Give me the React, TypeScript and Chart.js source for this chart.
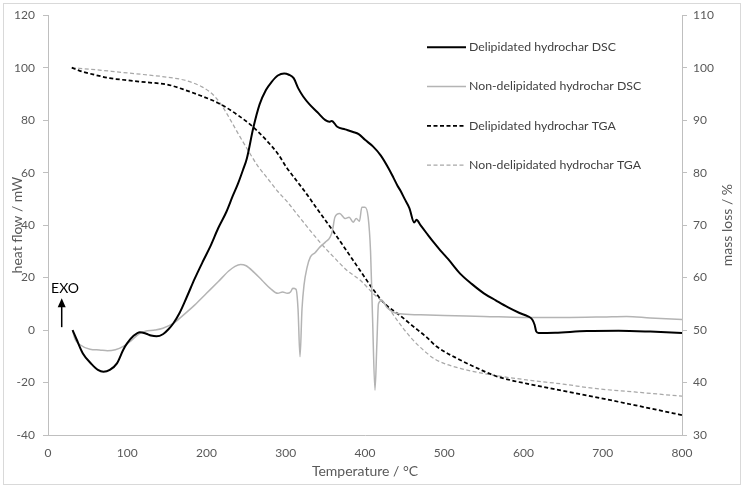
import { useEffect, useRef } from 'react'
import { Chart, registerables, type Plugin } from 'chart.js'

Chart.register(...registerables)

const FONT = 'Lato, "Open Sans", sans-serif'
const TICK = '#595959'
const AXIS = '#bfbfbf'

// Delipidated hydrochar DSC (heat flow, mW)
const deliDscTemp = [31, 36, 44, 55, 63, 70, 78, 87, 95, 100, 108, 116, 124, 130, 137, 145, 152, 158, 166, 175, 185, 196, 205, 215, 225, 233, 240, 246, 251, 259, 267, 275, 282, 290, 298, 304, 310, 316, 322, 330, 340, 350, 355, 358, 365, 375, 385, 392, 400, 410, 420, 430, 436, 441, 445, 450, 456, 462, 465, 470, 478, 487, 495, 505, 520, 535, 550, 565, 580, 595, 605, 611, 614, 616, 619, 640, 680, 720, 760, 800]
const deliDscFlow = [0, -3.5, -8.9, -13, -15.2, -15.9, -15.2, -12.7, -7.5, -5, -2.2, -0.8, -1.4, -2.1, -2.4, -1.6, 0.3, 2.5, 6.5, 12.5, 19.5, 26.5, 32, 39, 45, 51, 56, 61, 65.5, 77, 86, 91.5, 94.5, 97, 97.8, 97.3, 96, 92, 89, 86, 83, 80, 79.4, 79.7, 77.5, 76.5, 75.5, 74.7, 72.5, 70, 66.5, 61.5, 58, 55, 53, 50, 46.5, 41, 42, 40, 36.8, 33.3, 30.4, 27, 21.5, 17.5, 14, 11.3, 8.7, 6.5, 5.3, 4, 2, -0.5, -1.1, -1, -0.4, -0.3, -0.6, -1.1]

// Non-delipidated hydrochar DSC (heat flow, mW)
const nonDscTemp = [31, 34, 40, 53, 65, 75, 85, 95, 105, 115, 122, 135, 145, 158, 170, 185, 200, 215, 228, 236, 243, 250, 260, 270, 280, 290, 296, 302, 306, 309, 313, 315.5, 318, 320.5, 323, 327, 331, 337, 343, 350, 356, 359, 362, 368, 375, 380, 385, 389, 393, 396, 400, 404, 407, 409.5, 412.6, 415, 417, 421, 428, 436, 444, 470, 500, 550, 600, 650, 700, 730, 760, 800]
const nonDscFlow = [0, -3.4, -5.5, -7.3, -7.6, -7.9, -7.5, -6.2, -4, -1.5, -0.5, 0, 0.7, 2.5, 5.5, 9.5, 14, 18.5, 22.5, 24.3, 25, 24.5, 22, 19, 16, 14, 14.5, 14, 14.5, 15.9, 15.5, 8, -10.2, 8, 17, 24, 27.8, 29.5, 31.6, 33.5, 35.4, 38, 43, 44.4, 42.5, 43, 41.1, 42.5, 41.5, 46.8, 46.8, 43, 30, 5, -22.9, -5, 10, 11.3, 8.5, 6.8, 6.2, 5.8, 5.5, 5.2, 4.8, 4.8, 5, 5.2, 4.6, 4]

// Delipidated hydrochar TGA (mass, %)
const deliTgaTemp = [30, 40, 60, 78, 100, 125, 150, 170, 192, 210, 225, 240, 255, 265, 276, 290, 301, 315, 326, 340, 360, 375, 394, 410, 425, 444, 460, 478, 490, 520, 545, 562, 585, 604, 640, 688, 740, 800]
const deliTgaMass = [100, 99.4, 98.6, 98, 97.6, 97.2, 96.8, 95.9, 94.7, 93.6, 92.4, 90.9, 89.2, 87.8, 86.1, 83.6, 81, 78.2, 76, 73, 68.8, 65.5, 61.3, 57.8, 55, 52.8, 50.8, 48.6, 46.9, 44.3, 42.5, 41.4, 40.4, 39.8, 38.7, 37.3, 35.7, 33.8]

// Non-delipidated hydrochar TGA (mass, %)
const nonTgaTemp = [30, 60, 87, 120, 150, 170, 183, 195, 208, 217, 225, 233, 242, 255, 265, 276, 290, 301, 320, 345, 360, 377, 394, 410, 427, 440, 457, 478, 490, 520, 562, 604, 650, 688, 740, 800]
const nonTgaMass = [100, 99.6, 99.2, 98.7, 98.2, 97.7, 97.1, 96.3, 94.9, 93.3, 91.4, 89.3, 86.9, 83.6, 81.2, 79.1, 76.4, 74.6, 71, 66.4, 64, 61.4, 59.5, 57, 54.7, 52, 48.7, 45.6, 44.3, 42.7, 41.4, 40.5, 39.7, 38.9, 38.2, 37.4]

const zip = (xs: number[], ys: number[]) => xs.map((x, i) => ({ x, y: ys[i] }))

// legend inside the plot, EXO arrow, and the right title reading bottom-to-top
const extras: Plugin<'line'> = {
  id: 'extras',
  afterDraw(chart) {
    const { ctx, chartArea, scales } = chart
    ctx.save()

    const lx = chartArea.right - 255
    const ly = chartArea.top + 32
    chart.data.datasets.forEach((ds: any, i: number) => {
      const y = ly + i * 39.3
      ctx.strokeStyle = ds.borderColor
      ctx.lineWidth = ds.borderWidth
      ctx.setLineDash(ds.borderDash ?? [])
      ctx.beginPath()
      ctx.moveTo(lx, y)
      ctx.lineTo(lx + 39, y)
      ctx.stroke()
      ctx.setLineDash([])
      ctx.fillStyle = '#404040'
      ctx.font = `12.3px ${FONT}`
      ctx.textAlign = 'left'
      ctx.textBaseline = 'middle'
      ctx.fillText(ds.label, lx + 42, y)
    })

    const x = scales.x, y = scales.y
    const ax = x.getPixelForValue(17.3)
    const top = y.getPixelForValue(12.1)
    const bot = y.getPixelForValue(1.1)
    ctx.strokeStyle = '#000'
    ctx.fillStyle = '#000'
    ctx.lineWidth = 1.5
    ctx.beginPath()
    ctx.moveTo(ax, bot)
    ctx.lineTo(ax, top + 6)
    ctx.stroke()
    ctx.beginPath()
    ctx.moveTo(ax, top)
    ctx.lineTo(ax - 4, top + 9)
    ctx.lineTo(ax + 4, top + 9)
    ctx.closePath()
    ctx.fill()
    ctx.font = `14px ${FONT}`
    ctx.textAlign = 'center'
    ctx.fillText('EXO', x.getPixelForValue(21.5), y.getPixelForValue(16))

    ctx.translate(727, (chartArea.top + chartArea.bottom) / 2)
    ctx.rotate(-Math.PI / 2)
    ctx.fillStyle = TICK
    ctx.font = `14px ${FONT}`
    ctx.fillText('mass loss / %', 0, 0)
    ctx.restore()
  },
}

export default function App() {
  const canvasRef = useRef<HTMLCanvasElement>(null)

  useEffect(() => {
    document.body.style.margin = '0'
    if (!canvasRef.current) return
    const chart = new Chart(canvasRef.current, {
      type: 'line',
      data: {
        datasets: [
          { label: 'Delipidated hydrochar DSC', data: zip(deliDscTemp, deliDscFlow), borderColor: '#000000', borderWidth: 2, yAxisID: 'y' },
          { label: 'Non-delipidated hydrochar DSC', data: zip(nonDscTemp, nonDscFlow), borderColor: '#b4b4b4', borderWidth: 1.5, yAxisID: 'y' },
          { label: 'Delipidated hydrochar TGA', data: zip(deliTgaTemp, deliTgaMass), borderColor: '#000000', borderWidth: 1.75, borderDash: [4, 2.5], yAxisID: 'y2' },
          { label: 'Non-delipidated hydrochar TGA', data: zip(nonTgaTemp, nonTgaMass), borderColor: '#a8a8a8', borderWidth: 1.25, borderDash: [4, 2.5], yAxisID: 'y2' },
        ],
      },
      options: {
        responsive: true,
        maintainAspectRatio: false,
        animation: false,
        events: [],
        layout: { padding: { top: 14, left: 0, right: 0, bottom: 0 } },
        elements: {
          point: { radius: 0 },
          line: { cubicInterpolationMode: 'monotone', fill: false },
        },
        plugins: { legend: { display: false }, tooltip: { enabled: false } },
        scales: {
          x: {
            type: 'linear', min: 0, max: 800,
            ticks: { stepSize: 100, color: TICK, font: { family: FONT, size: 12 }, padding: 11, maxRotation: 0 },
            grid: { display: false, drawTicks: false },
            border: { display: true, color: AXIS, width: 1 },
            title: { display: true, text: 'Temperature / °C', color: TICK, font: { family: FONT, size: 14 }, padding: { top: 4, bottom: 7.6 } },
            afterFit: (s: any) => { s.height = 52 },
          },
          y: {
            position: 'left', min: -40, max: 120,
            ticks: { stepSize: 20, color: TICK, font: { family: FONT, size: 12 }, padding: 8 },
            grid: { display: true, drawOnChartArea: false, drawTicks: true, tickLength: 5, color: AXIS },
            border: { display: true, color: AXIS, width: 1 },
            title: { display: true, text: 'heat flow / mW', color: TICK, font: { family: FONT, size: 14 }, padding: { top: 8.6, bottom: 4 } },
            afterFit: (s: any) => { s.width = 48 },
          },
          y2: {
            position: 'right', min: 30, max: 110,
            ticks: { stepSize: 10, color: TICK, font: { family: FONT, size: 12 }, padding: 6 },
            grid: { display: true, drawOnChartArea: false, drawTicks: true, tickLength: 5, color: AXIS },
            border: { display: true, color: AXIS, width: 1 },
            afterFit: (s: any) => { s.width = 61 },
          },
        },
      },
      plugins: [extras],
    })
    return () => chart.destroy()
  }, [])

  return (
    <div style={{ position: 'relative', width: 743, height: 487, background: '#fff' }}>
      <canvas ref={canvasRef} />
      <div style={{ position: 'absolute', left: 3, top: 3, width: 736, height: 480, border: '1px solid #d9d9d9', pointerEvents: 'none' }} />
    </div>
  )
}
